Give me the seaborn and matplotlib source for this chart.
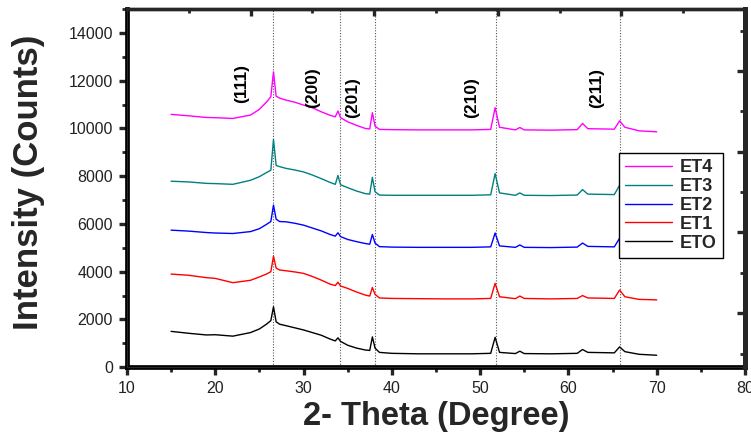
import numpy as np
import pandas as pd
import matplotlib
matplotlib.use("Agg")
import matplotlib.pyplot as plt
from matplotlib.ticker import MultipleLocator, FixedLocator
import seaborn as sns

# ---------------- data ----------------
two_theta = [15, 17, 19, 20, 22, 24, 25, 25.8, 26.3, 26.6, 26.9, 27.3, 28, 29, 30, 31, 32, 33,
             33.6, 33.9, 34.2, 35, 36, 37, 37.5, 37.8, 38.1, 38.6, 40, 43, 46, 49, 51.2, 51.7,
             52.2, 54, 54.5, 55, 58, 61, 61.6, 62.2, 65.2, 65.8, 66.4, 68, 70]

eto = [1500, 1420, 1350, 1360, 1300, 1450, 1600, 1800, 1950, 2530, 1900, 1800, 1740, 1650, 1560,
       1450, 1340, 1180, 1100, 1230, 1080, 920, 800, 720, 700, 1270, 800, 620, 580, 560, 560, 560,
       580, 1250, 620, 570, 670, 570, 560, 580, 740, 620, 600, 850, 650, 540, 500]

et1 = [3900, 3850, 3750, 3720, 3540, 3640, 3780, 3900, 4000, 4650, 4150, 4070, 4040, 3990, 3930,
       3800, 3650, 3480, 3420, 3560, 3400, 3300, 3150, 3020, 2980, 3340, 3050, 2900, 2880, 2870,
       2860, 2860, 2880, 3510, 2950, 2870, 2980, 2880, 2860, 2880, 3000, 2900, 2880, 3230, 2950,
       2840, 2820]

et2 = [5740, 5700, 5640, 5620, 5600, 5680, 5800, 5980, 6100, 6790, 6200, 6100, 6090, 6030, 5950,
       5830, 5710, 5560, 5490, 5630, 5470, 5350, 5260, 5180, 5150, 5560, 5200, 5050, 5030, 5020,
       5020, 5020, 5040, 5620, 5080, 5020, 5120, 5020, 5010, 5030, 5200, 5060, 5040, 5400, 5100,
       5010, 4990]

et3 = [7790, 7760, 7700, 7690, 7660, 7830, 7980, 8150, 8250, 9540, 8450, 8400, 8330, 8260, 8180,
       8050, 7900, 7740, 7660, 8030, 7640, 7520, 7380, 7270, 7250, 7950, 7350, 7210, 7200, 7200,
       7200, 7200, 7220, 8110, 7300, 7200, 7300, 7200, 7190, 7210, 7440, 7250, 7230, 7620, 7300,
       7190, 7180]

et4 = [10590, 10530, 10460, 10450, 10420, 10560, 10800, 11100, 11330, 12370, 11350, 11270, 11190,
       11100, 10980, 10870, 10700, 10550, 10490, 10730, 10450, 10280, 10130, 10000, 9980, 10660,
       10100, 9960, 9950, 9940, 9940, 9940, 9960, 10870, 10050, 9940, 10040, 9940, 9930, 9950,
       10210, 9990, 9970, 10320, 10050, 9900, 9860]

sample_names = ["ET4", "ET3", "ET2", "ET1", "ETO"]
sample_colors = ["#FF00FF", "#008080", "#0000FF", "#FF0000", "#000000"]

peak_positions = [26.55, 34.1, 38.15, 51.75, 65.85]
hkl_labels = ["(111)", "(200)", "(201)", "(210)", "(211)"]
hkl_x = [23.0, 31.0, 35.6, 49.0, 63.2]
hkl_y = [11900, 11690, 11310, 11310, 11690]

x_ticks = [10, 20, 30, 40, 50, 60, 70, 80]
y_ticks = [0, 2000, 4000, 6000, 8000, 10000, 12000, 14000]

# ---------------- build table ----------------
series = {"ET4": et4, "ET3": et3, "ET2": et2, "ET1": et1, "ETO": eto}
df = pd.concat([pd.DataFrame({"two_theta": two_theta, "intensity": vals, "sample": name})
                for name, vals in series.items()], ignore_index=True)

# ---------------- style ----------------
sns.set_style("ticks")
plt.rcParams["font.family"] = ["Liberation Sans", "DejaVu Sans"]

fig = plt.figure(figsize=(7.51, 4.33), dpi=100)
ax = fig.add_axes([0.169, 0.152, 0.823, 0.827])

sns.lineplot(data=df, x="two_theta", y="intensity", hue="sample", hue_order=sample_names,
             palette=dict(zip(sample_names, sample_colors)), sort=False, estimator=None,
             linewidth=1.0, ax=ax)

for xp in peak_positions:
    ax.axvline(xp, color="#555555", linestyle=(0, (1, 1.5)), linewidth=0.8, zorder=0)

for lab, xl, yl in zip(hkl_labels, hkl_x, hkl_y):
    ax.text(xl, yl, lab, rotation=90, ha="center", va="center", fontsize=12.5,
            fontweight="bold", color="black")

ax.set_xlim(10, 80)
ax.set_ylim(0, 15000)
ax.xaxis.set_major_locator(FixedLocator(x_ticks))
ax.xaxis.set_minor_locator(MultipleLocator(5))
ax.yaxis.set_major_locator(FixedLocator(y_ticks))
ax.yaxis.set_minor_locator(MultipleLocator(1000))
ax.tick_params(axis="both", which="major", direction="out", length=6, width=2.4,
               labelsize=11.5, labelcolor="#222222", top=False, right=False, pad=4)
ax.tick_params(axis="both", which="minor", direction="out", length=3.5, width=2.0,
               top=False, right=False)

for side in ["left", "right", "bottom"]:
    ax.spines[side].set_linewidth(3.4)
    ax.spines[side].set_color("black")
ax.spines["top"].set_linewidth(2.4)
ax.spines["top"].set_color("black")

ax.set_xlabel("2- Theta (Degree)", fontsize=23.5, fontweight="bold")
ax.set_ylabel("Intensity (Counts)", fontsize=25, fontweight="bold")
ax.xaxis.set_label_coords(0.5, -0.095)
ax.yaxis.set_label_coords(-0.132, 0.517)

# top decorative axis ticks (inward)
axt = ax.twiny()
axt.set_xlim(0, 5)
axt.xaxis.set_major_locator(FixedLocator([1, 2, 3, 4]))
axt.xaxis.set_minor_locator(FixedLocator([0.5, 1.5, 2.5, 3.5, 4.5]))
axt.tick_params(axis="x", which="major", direction="in", length=5, width=2.4,
                labeltop=False, top=True, bottom=False)
axt.tick_params(axis="x", which="minor", direction="in", length=3, width=2.0,
                top=True, bottom=False)
axt.spines["top"].set_linewidth(2.4)

# right decorative axis ticks (inward)
axr = ax.twinx()
axr.set_ylim(0.331, 4.767)
axr.yaxis.set_major_locator(FixedLocator([1, 2, 3, 4]))
axr.yaxis.set_minor_locator(FixedLocator([0.5, 1.5, 2.5, 3.5, 4.5]))
axr.tick_params(axis="y", which="major", direction="in", length=6, width=2.4,
                labelright=False, right=True, left=False)
axr.tick_params(axis="y", which="minor", direction="in", length=3.5, width=2.0,
                right=True, left=False)
axr.spines["right"].set_linewidth(3.4)
for a in (axt, axr):
    a.grid(False)

handles, labels = ax.get_legend_handles_labels()
leg = ax.legend(handles, labels, loc="upper left", bbox_to_anchor=(0.796, 0.598),
                frameon=True, fancybox=False, edgecolor="black", framealpha=1,
                prop={"weight": "bold", "size": 13}, handlelength=2.6, handletextpad=0.4,
                labelspacing=0.1, borderpad=0.35, borderaxespad=0)
leg.get_frame().set_linewidth(1.0)

fig.savefig("out.png", dpi=100)
